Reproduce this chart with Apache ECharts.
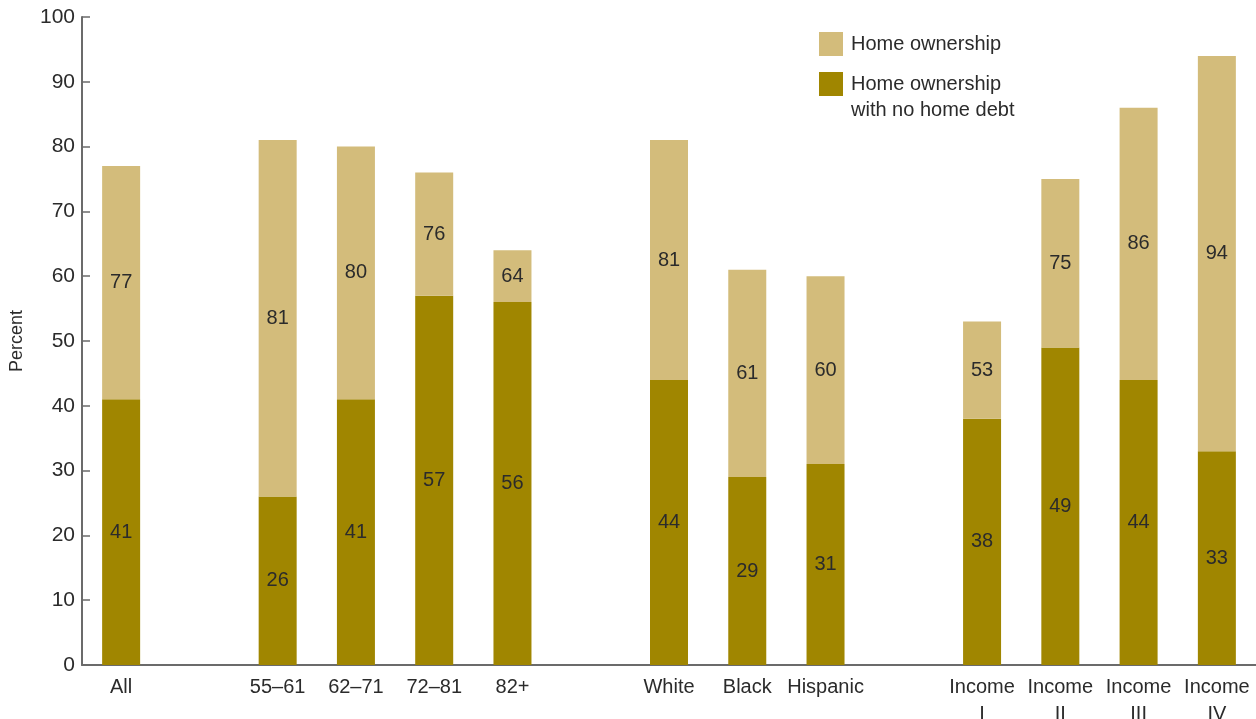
<!DOCTYPE html>
<html>
<head>
    <meta charset="utf-8">
    <title>Home ownership</title>
    <script src="https://cdn.jsdelivr.net/npm/echarts@6/dist/echarts.min.js"></script>
    <style>
        html, body {
            margin: 0;
            padding: 0;
            background: #fff;
        }
        #chart {
            width: 1256px;
            height: 719px;
        }
    </style>
</head>
<body>
<div id="chart"></div>
<script>
    // categories, '' = spacer slot between groups
    var categories = ['All', '', '55–61', '62–71', '72–81', '82+', '', 'White', 'Black', 'Hispanic', '', 'Income\nI', 'Income\nII', 'Income\nIII', 'Income\nIV'];
    var ownership = [77, null, 81, 80, 76, 64, null, 81, 61, 60, null, 53, 75, 86, 94];
    var noDebt = [41, null, 26, 41, 57, 56, null, 44, 29, 31, null, 38, 49, 44, 33];
    var yTicks = [0, 10, 20, 30, 40, 50, 60, 70, 80, 90, 100];

    var lightColor = '#d3bc7b';
    var darkColor = '#a08600';
    var textColor = '#2b2b2b';
    var axisColor = '#6b6b6b';
    var fontFamily = '"Liberation Sans", Arial, Helvetica, sans-serif';

    var nameLight = 'Home ownership';
    var nameDark = 'Home ownership\nwith no home debt';

    // upper part of the stacked bar = ownership minus the no-debt part
    var restData = ownership.map(function (v, i) {
        return v == null ? '-' : v - noDebt[i];
    });
    var darkData = noDebt.map(function (v) { return v == null ? '-' : v; });

    var chart = echarts.init(document.getElementById('chart'));

    var legendBase = {
        orient: 'vertical',
        left: 814,
        itemWidth: 24,
        itemHeight: 24,
        icon: 'rect',
        selectedMode: false,
        textStyle: { fontSize: 20, lineHeight: 26, color: textColor, fontFamily: fontFamily, padding: [0, 0, 0, 3] }
    };

    var option = {
        animation: false,
        textStyle: { fontFamily: fontFamily, color: textColor },
        grid: { left: 82, right: 0, top: 17, bottom: 54, outerBoundsMode: 'none', containLabel: false },
        legend: [
            Object.assign({}, legendBase, { data: [nameLight], top: 26 }),
            // blank first line keeps the symbol level with the first text line
            Object.assign({}, legendBase, {
                data: [nameDark],
                top: 40,
                formatter: function (name) { return ' \n' + name; }
            })
        ],
        xAxis: {
            type: 'category',
            data: categories,
            axisLine: { lineStyle: { color: axisColor, width: 2 } },
            axisTick: { show: false },
            axisLabel: {
                interval: 0,
                margin: 9,
                fontSize: 20,
                lineHeight: 27,
                color: textColor,
                fontFamily: fontFamily
            }
        },
        yAxis: {
            type: 'value',
            min: 0,
            max: 100,
            interval: 10,
            name: 'Percent',
            nameLocation: 'middle',
            nameGap: 56,
            nameRotate: 90,
            nameTextStyle: { fontSize: 18, color: textColor, fontFamily: fontFamily },
            splitLine: { show: false },
            axisLine: { show: true, lineStyle: { color: axisColor, width: 2 } },
            axisTick: { show: true, inside: true, length: 8, lineStyle: { color: axisColor, width: 1.5 } },
            axisLabel: {
                margin: 7,
                fontSize: 21,
                color: textColor,
                fontFamily: fontFamily,
                formatter: function (v) {
                    return yTicks.indexOf(v) >= 0 ? String(v) : '';
                }
            }
        },
        series: [
            {
                name: nameDark,
                type: 'bar',
                stack: 'own',
                barWidth: 38,
                data: darkData,
                itemStyle: { color: darkColor },
                label: {
                    show: true,
                    position: 'inside',
                    fontSize: 20,
                    color: textColor,
                    fontFamily: fontFamily
                }
            },
            {
                name: nameLight,
                type: 'bar',
                stack: 'own',
                barWidth: 38,
                data: restData,
                itemStyle: { color: lightColor },
                label: {
                    show: true,
                    position: 'inside',
                    fontSize: 20,
                    color: textColor,
                    fontFamily: fontFamily,
                    formatter: function (p) {
                        return String(ownership[p.dataIndex]);
                    }
                }
            }
        ]
    };

    chart.setOption(option);
</script>
</body>
</html>
